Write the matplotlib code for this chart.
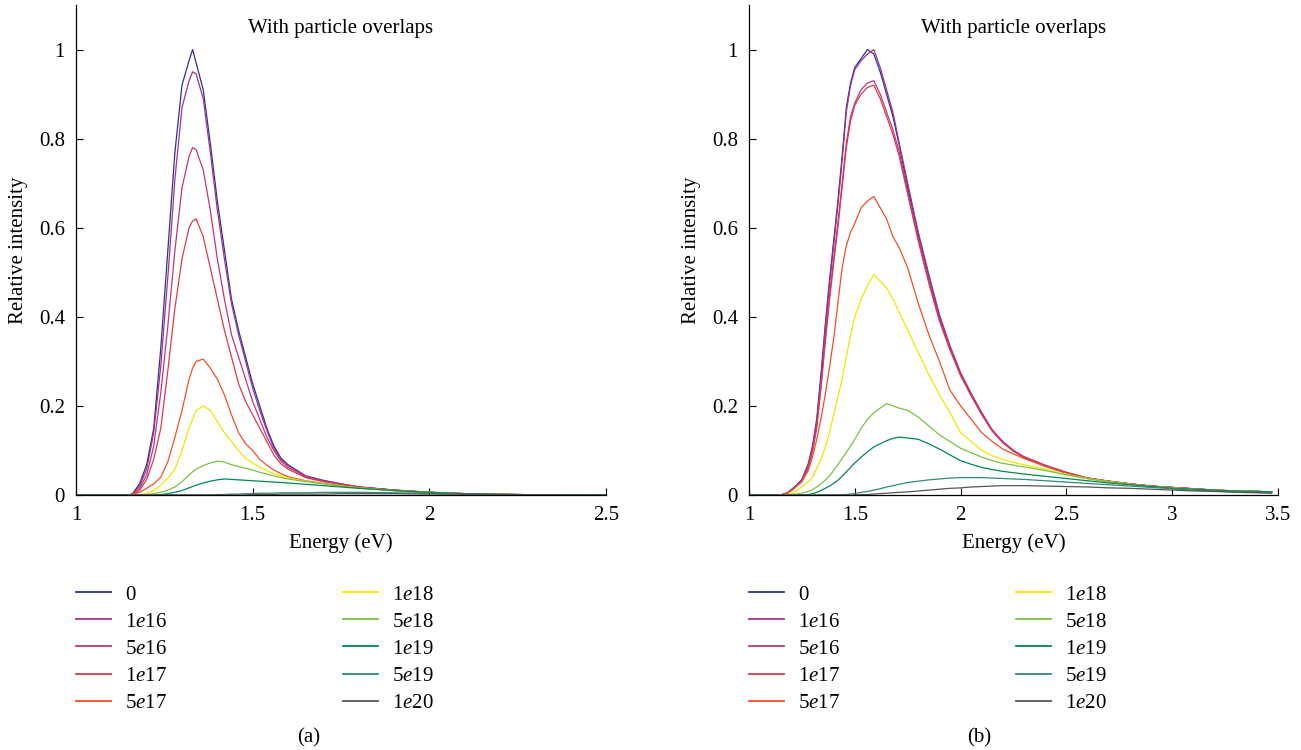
import matplotlib
matplotlib.use('Agg')
import matplotlib.pyplot as plt
from matplotlib.legend import Legend
from matplotlib.ticker import FormatStrFormatter

plt.rcParams['font.family'] = ['Liberation Serif', 'DejaVu Serif']
plt.rcParams['mathtext.fontset'] = 'custom'
plt.rcParams['mathtext.rm'] = 'Liberation Serif'
plt.rcParams['mathtext.it'] = 'Liberation Serif:italic'

# doping levels (legend) and colours
labels = ['0', '1$e$16', '5$e$16', '1$e$17', '5$e$17',
          '1$e$18', '5$e$18', '1$e$19', '5$e$19', '1$e$20']
colors = ['#2e3192', '#9b3596', '#c2357b', '#d63c4c', '#f04e2a',
          '#f2e600', '#7cc142', '#00894c', '#2f8a78', '#555555']

# ---- panel (a) ----
energy_a = [1.00, 1.15, 1.16, 1.18, 1.20, 1.22, 1.24, 1.26, 1.28, 1.30, 1.32, 1.33,
            1.34, 1.36, 1.38, 1.40, 1.42, 1.44, 1.46, 1.48, 1.50, 1.52, 1.54, 1.56,
            1.58, 1.60, 1.65, 1.70, 1.75, 1.80, 1.90, 2.00, 2.10, 2.20, 2.30, 2.50]
a_0 = [0, 0, 0.003, 0.025, 0.068, 0.15, 0.33, 0.55, 0.77, 0.92, 0.975, 1.0,
       0.97, 0.91, 0.79, 0.66, 0.55, 0.44, 0.37, 0.31, 0.25, 0.20, 0.15, 0.11,
       0.083, 0.068, 0.043, 0.033, 0.025, 0.018, 0.011, 0.006, 0.003, 0.0015, 0.0005, 0]
a_1e16 = [0, 0, 0.002, 0.02, 0.058, 0.14, 0.29, 0.49, 0.71, 0.87, 0.93, 0.95,
          0.945, 0.89, 0.77, 0.64, 0.53, 0.43, 0.36, 0.30, 0.24, 0.19, 0.145, 0.105,
          0.08, 0.066, 0.042, 0.032, 0.025, 0.018, 0.011, 0.006, 0.003, 0.0015, 0.0005, 0]
a_5e16 = [0, 0, 0.002, 0.015, 0.045, 0.11, 0.23, 0.38, 0.55, 0.69, 0.76, 0.78,
          0.775, 0.73, 0.64, 0.53, 0.44, 0.36, 0.31, 0.26, 0.21, 0.17, 0.13, 0.10,
          0.076, 0.062, 0.041, 0.031, 0.024, 0.018, 0.011, 0.006, 0.003, 0.0015, 0.0005, 0]
a_1e17 = [0, 0, 0.001, 0.01, 0.035, 0.08, 0.15, 0.28, 0.42, 0.53, 0.60, 0.615,
          0.62, 0.58, 0.51, 0.44, 0.37, 0.31, 0.25, 0.21, 0.18, 0.15, 0.12, 0.09,
          0.07, 0.058, 0.039, 0.03, 0.024, 0.018, 0.011, 0.006, 0.003, 0.0015, 0.0005, 0]
a_5e17 = [0, 0, 0.001, 0.006, 0.015, 0.025, 0.04, 0.075, 0.13, 0.19, 0.26, 0.285,
          0.30, 0.305, 0.285, 0.26, 0.225, 0.18, 0.14, 0.115, 0.10, 0.08, 0.067, 0.056,
          0.048, 0.041, 0.032, 0.026, 0.021, 0.016, 0.01, 0.006, 0.003, 0.0015, 0.0005, 0]
a_1e18 = [0, 0, 0, 0.001, 0.003, 0.01, 0.022, 0.038, 0.058, 0.10, 0.15, 0.17,
          0.19, 0.20, 0.19, 0.165, 0.14, 0.12, 0.10, 0.082, 0.072, 0.063, 0.055, 0.048,
          0.043, 0.038, 0.031, 0.025, 0.02, 0.016, 0.01, 0.006, 0.003, 0.0015, 0.0005, 0]
a_5e18 = [0, 0, 0, 0, 0.001, 0.003, 0.006, 0.011, 0.018, 0.03, 0.045, 0.052,
          0.058, 0.066, 0.072, 0.076, 0.074, 0.068, 0.064, 0.06, 0.056, 0.051, 0.047, 0.043,
          0.039, 0.036, 0.03, 0.025, 0.02, 0.016, 0.01, 0.006, 0.003, 0.0015, 0.0005, 0]
a_1e19 = [0, 0, 0, 0, 0, 0, 0.001, 0.003, 0.006, 0.01, 0.016, 0.019,
          0.022, 0.027, 0.031, 0.034, 0.036, 0.035, 0.034, 0.033, 0.032, 0.031, 0.03, 0.029,
          0.028, 0.027, 0.024, 0.021, 0.018, 0.015, 0.01, 0.006, 0.003, 0.0015, 0.0005, 0]
a_5e19 = [0, 0, 0, 0, 0, 0, 0, 0, 0, 0, 0, 0,
          0, 0, 0, 0.001, 0.001, 0.002, 0.002, 0.003, 0.003, 0.004, 0.004, 0.004,
          0.005, 0.005, 0.005, 0.006, 0.006, 0.006, 0.005, 0.004, 0.002, 0.001, 0.0005, 0]
a_1e20 = [0, 0, 0, 0, 0, 0, 0, 0, 0, 0, 0, 0,
          0, 0, 0, 0, 0, 0, 0, 0, 0.001, 0.001, 0.001, 0.001,
          0.002, 0.002, 0.002, 0.002, 0.003, 0.003, 0.003, 0.002, 0.002, 0.001, 0.0005, 0]

# ---- panel (b) ----
energy_b = [1.00, 1.15, 1.18, 1.20, 1.22, 1.25, 1.28, 1.30, 1.32, 1.34,
            1.36, 1.38, 1.40, 1.42, 1.44, 1.46, 1.48, 1.50, 1.53, 1.56,
            1.59, 1.62, 1.65, 1.68, 1.71, 1.75, 1.80, 1.85, 1.90, 1.95,
            2.00, 2.05, 2.10, 2.15, 2.20, 2.25, 2.30, 2.40, 2.50, 2.60,
            2.70, 2.80, 2.90, 3.00, 3.10, 3.20, 3.30, 3.40, 3.47]
b_0 = [0, 0, 0.005, 0.012, 0.02, 0.035, 0.07, 0.11, 0.17, 0.27,
       0.38, 0.48, 0.57, 0.66, 0.76, 0.87, 0.925, 0.96, 0.98, 1.0,
       0.99, 0.95, 0.90, 0.85, 0.785, 0.69, 0.585, 0.49, 0.40, 0.33,
       0.27, 0.225, 0.183, 0.144, 0.118, 0.099, 0.085, 0.066, 0.05, 0.037,
       0.03, 0.025, 0.02, 0.017, 0.014, 0.011, 0.009, 0.008, 0.007]
b_1e16 = [0, 0, 0.004, 0.011, 0.019, 0.033, 0.066, 0.105, 0.165, 0.26,
          0.37, 0.47, 0.56, 0.65, 0.75, 0.86, 0.92, 0.955, 0.975, 0.99,
          1.0, 0.96, 0.91, 0.86, 0.79, 0.70, 0.59, 0.495, 0.405, 0.335,
          0.275, 0.228, 0.185, 0.146, 0.12, 0.1, 0.086, 0.067, 0.051, 0.038,
          0.031, 0.025, 0.02, 0.017, 0.014, 0.011, 0.009, 0.008, 0.007]
b_5e16 = [0, 0, 0.004, 0.01, 0.018, 0.032, 0.063, 0.10, 0.155, 0.245,
          0.35, 0.445, 0.53, 0.61, 0.70, 0.79, 0.85, 0.88, 0.91, 0.925,
          0.93, 0.90, 0.86, 0.82, 0.77, 0.68, 0.575, 0.48, 0.395, 0.33,
          0.27, 0.225, 0.183, 0.145, 0.118, 0.099, 0.085, 0.066, 0.05, 0.038,
          0.031, 0.025, 0.02, 0.017, 0.014, 0.011, 0.009, 0.008, 0.007]
b_1e17 = [0, 0, 0.004, 0.01, 0.018, 0.031, 0.062, 0.098, 0.15, 0.24,
          0.34, 0.435, 0.52, 0.60, 0.69, 0.78, 0.84, 0.875, 0.90, 0.915,
          0.92, 0.89, 0.85, 0.81, 0.76, 0.675, 0.57, 0.475, 0.39, 0.325,
          0.268, 0.222, 0.18, 0.143, 0.117, 0.098, 0.084, 0.065, 0.05, 0.038,
          0.031, 0.025, 0.02, 0.017, 0.014, 0.011, 0.009, 0.008, 0.007]
b_5e17 = [0, 0, 0.004, 0.01, 0.018, 0.03, 0.055, 0.085, 0.125, 0.17,
          0.225, 0.285, 0.35, 0.43, 0.51, 0.56, 0.59, 0.61, 0.645, 0.66,
          0.67, 0.645, 0.62, 0.58, 0.555, 0.51, 0.43, 0.36, 0.30, 0.235,
          0.20, 0.17, 0.14, 0.12, 0.103, 0.092, 0.082, 0.064, 0.049, 0.038,
          0.031, 0.025, 0.02, 0.016, 0.013, 0.011, 0.009, 0.008, 0.007]
b_1e18 = [0, 0, 0.001, 0.003, 0.008, 0.018, 0.03, 0.04, 0.06, 0.08,
          0.107, 0.14, 0.18, 0.22, 0.26, 0.31, 0.36, 0.40, 0.44, 0.47,
          0.495, 0.48, 0.465, 0.44, 0.41, 0.37, 0.32, 0.27, 0.225, 0.185,
          0.14, 0.12, 0.10, 0.088, 0.08, 0.073, 0.068, 0.058, 0.046, 0.037,
          0.03, 0.024, 0.019, 0.016, 0.013, 0.011, 0.009, 0.008, 0.007]
b_5e18 = [0, 0, 0, 0.001, 0.002, 0.004, 0.008, 0.012, 0.018, 0.025,
          0.033, 0.043, 0.055, 0.068, 0.082, 0.096, 0.11, 0.125, 0.15, 0.17,
          0.185, 0.195, 0.205, 0.2, 0.195, 0.19, 0.175, 0.155, 0.135, 0.12,
          0.105, 0.095, 0.085, 0.077, 0.071, 0.067, 0.063, 0.055, 0.045, 0.037,
          0.03, 0.024, 0.019, 0.016, 0.013, 0.011, 0.009, 0.008, 0.007]
b_1e19 = [0, 0, 0, 0, 0, 0, 0.001, 0.003, 0.006, 0.01,
          0.015, 0.02, 0.026, 0.033, 0.042, 0.052, 0.062, 0.072, 0.085, 0.097,
          0.108, 0.115, 0.122, 0.127, 0.13, 0.128, 0.125, 0.115, 0.103, 0.09,
          0.077, 0.069, 0.062, 0.057, 0.053, 0.05, 0.047, 0.042, 0.037, 0.032,
          0.027, 0.023, 0.019, 0.015, 0.013, 0.011, 0.009, 0.008, 0.007]
b_5e19 = [0, 0, 0, 0, 0, 0, 0, 0, 0, 0,
          0, 0, 0, 0, 0.001, 0.001, 0.002, 0.003, 0.006, 0.008,
          0.011, 0.014, 0.018, 0.021, 0.024, 0.028, 0.031, 0.034, 0.036, 0.038,
          0.039, 0.039, 0.039, 0.038, 0.037, 0.036, 0.035, 0.032, 0.029, 0.026,
          0.023, 0.02, 0.017, 0.014, 0.011, 0.009, 0.007, 0.006, 0.005]
b_1e20 = [0, 0, 0, 0, 0, 0, 0, 0, 0, 0,
          0, 0, 0, 0, 0, 0, 0, 0, 0.001, 0.001,
          0.002, 0.003, 0.004, 0.005, 0.006, 0.007, 0.009, 0.011, 0.013, 0.015,
          0.016, 0.018, 0.019, 0.02, 0.021, 0.021, 0.021, 0.02, 0.019, 0.018,
          0.016, 0.015, 0.013, 0.011, 0.009, 0.008, 0.006, 0.005, 0.004]

series_a = [a_0, a_1e16, a_5e16, a_1e17, a_5e17, a_1e18, a_5e18, a_1e19, a_5e19, a_1e20]
series_b = [b_0, b_1e16, b_5e16, b_1e17, b_5e17, b_1e18, b_5e18, b_1e19, b_5e19, b_1e20]

W, H = 1301, 750
FS = 15
fig = plt.figure(figsize=(W / 100, H / 100), dpi=100)


def draw_panel(left_px, width_px, energy, series, xmax, xticks, tag, tag_x):
    ax = fig.add_axes([left_px / W, 255 / H, width_px / W, 490 / H])
    lines = []
    for ys, c, lab in zip(series, colors, labels):
        ln, = ax.plot(energy, ys, color=c, lw=0.9, label=lab)
        lines.append(ln)
    ax.set_xlim(1, xmax)
    ax.set_ylim(0, 1.1)
    ax.set_xticks(xticks)
    ax.set_yticks([0, 0.2, 0.4, 0.6, 0.8, 1.0])
    ax.xaxis.set_major_formatter(FormatStrFormatter('%g'))
    ax.yaxis.set_major_formatter(FormatStrFormatter('%g'))
    for s in ['top', 'right']:
        ax.spines[s].set_visible(False)
    for s in ['left', 'bottom']:
        ax.spines[s].set_linewidth(0.9)
    ax.tick_params(direction='in', length=5, width=0.8, pad=8, labelsize=FS)
    ax.set_xlabel('Energy (eV)', fontsize=FS)
    ax.set_ylabel('Relative intensity', fontsize=FS)
    ax.xaxis.set_label_coords(0.5, -0.078)
    ax.yaxis.set_label_coords(-0.09, 0.5)
    ax.text(0.5, 0.953, 'With particle overlaps', transform=ax.transAxes,
            ha='center', va='center', fontsize=FS)

    # legend: two columns of five under the axes
    for k, x0 in enumerate([left_px, left_px + 267]):
        leg = Legend(ax, lines[5 * k:5 * k + 5], labels[5 * k:5 * k + 5],
                     loc='upper left', bbox_to_anchor=(x0 / W, 1 - 585 / H),
                     bbox_transform=fig.transFigure, frameon=False,
                     handlelength=1.7, handletextpad=0.67, labelspacing=0.36,
                     borderpad=0, borderaxespad=0, fontsize=FS)
        for h in leg.get_lines():
            h.set_linewidth(1.3)
        ax.add_artist(leg)
    fig.text(tag_x / W, 1 - 738 / H, tag, ha='center', va='center', fontsize=FS)
    return ax


draw_panel(76, 530, energy_a, series_a, 2.5, [1, 1.5, 2, 2.5], '(a)', 309)
draw_panel(749, 529, energy_b, series_b, 3.5, [1, 1.5, 2, 2.5, 3, 3.5], '(b)', 979)

fig.savefig('out.png', dpi=100)
